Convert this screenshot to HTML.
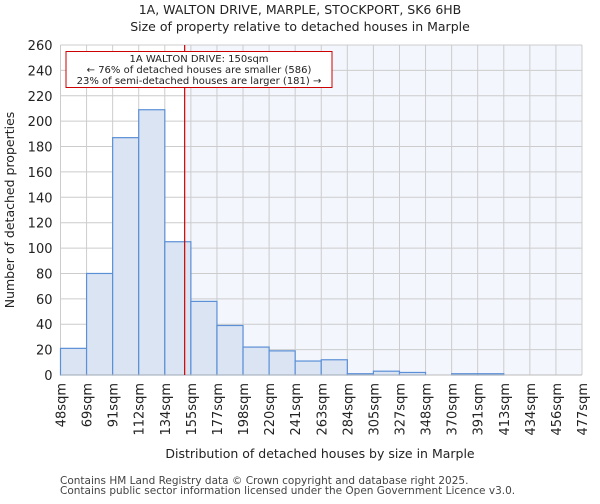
<!DOCTYPE html>
<html><head><meta charset="utf-8"><style>
body{margin:0;background:#fff;font-family:"DejaVu Sans","Liberation Sans",sans-serif;}
</style></head><body>
<svg id="chart" width="600" height="500" xmlns="http://www.w3.org/2000/svg" font-family="DejaVu Sans, Liberation Sans, sans-serif">
<text x="300" y="14" text-anchor="middle" font-size="12.5" fill="#222">1A, WALTON DRIVE, MARPLE, STOCKPORT, SK6 6HB</text>
<text x="300" y="31" text-anchor="middle" font-size="12.5" fill="#222">Size of property relative to detached houses in Marple</text>
<g id="plot"></g>
<text x="320" y="458" text-anchor="middle" font-size="12.5" fill="#222">Distribution of detached houses by size in Marple</text>
<text transform="translate(14,210) rotate(-90)" text-anchor="middle" font-size="12.5" fill="#222">Number of detached properties</text>
<text x="60" y="484" font-size="10.5" fill="#444">Contains HM Land Registry data © Crown copyright and database right 2025.</text>
<text x="60" y="494" font-size="10.5" fill="#444">Contains public sector information licensed under the Open Government Licence v3.0.</text>
</svg>
<script>
const labels=["48sqm","69sqm","91sqm","112sqm","134sqm","155sqm","177sqm","198sqm","220sqm","241sqm","263sqm","284sqm","305sqm","327sqm","348sqm","370sqm","391sqm","413sqm","434sqm","456sqm","477sqm"];
const edges=[48,69,91,112,134,155,177,198,220,241,263,284,305,327,348,370,391,413,434,456,477];
const counts=[21,80,187,209,105,58,39,22,19,11,12,1,3,2,0,1,1,0,0,0];
const yTicks=[0,20,40,60,80,100,120,140,160,180,200,220,240,260];
const propertySize=150;
const L=60.5,R=582,T=45,B=375,yMax=260,n=counts.length;
const NS="http://www.w3.org/2000/svg";
const g=document.getElementById('plot');
const xb=i=>L+(R-L)*i/n;
const y=v=>B-(B-T)*v/yMax;
function xv(v){for(let i=0;i<edges.length-1;i++){if(v<=edges[i+1])return xb(i)+(v-edges[i])/(edges[i+1]-edges[i])*(xb(i+1)-xb(i));}return R;}
function mk(t,a,p){const e=document.createElementNS(NS,t);for(const k in a)e.setAttribute(k,a[k]);(p||g).appendChild(e);return e;}
const px=xv(propertySize);
let e=mk('rect',{x:L,y:T,width:R-L,height:B-T,fill:'#fff'});


e=mk('rect',{x:px,y:T,width:R-px,height:B-T,fill:'#f3f6fd'});


for(let i=0;i<=n;i++){e=mk('line',{x1:xb(i),x2:xb(i),y1:T,y2:B,stroke:'#cccccc','stroke-width':1});

}
yTicks.forEach(v=>{e=mk('line',{x1:L,x2:R,y1:y(v),y2:y(v),stroke:'#cccccc','stroke-width':1});


const t=mk('text',{x:L-8,y:y(v)+5,'text-anchor':'end','font-size':13,fill:'#222'});t.textContent=v;

});
counts.forEach((c,i)=>{if(c<=0)return;e=mk('rect',{x:xb(i),y:y(c),width:xb(i+1)-xb(i),height:B-y(c),fill:'#dae4f3',stroke:'#5b8fd6','stroke-width':1.2});

});
labels.forEach((l,i)=>{const t=mk('text',{transform:`translate(${xb(i)+5},${383}) rotate(-90)`,'text-anchor':'end','font-size':13,fill:'#222'});t.textContent=l;

});
e=mk('line',{x1:L,x2:R,y1:B,y2:B,stroke:'#bbb','stroke-width':1});


e=mk('line',{x1:px,x2:px,y1:T,y2:B,stroke:'#cc0000','stroke-width':1.2});


e=mk('rect',{x:66,y:51.5,width:266,height:36,fill:'#fff',stroke:'#cc0000','stroke-width':1});


["1A WALTON DRIVE: "+propertySize+"sqm","← 76% of detached houses are smaller (586)","23% of semi-detached houses are larger (181) →"].forEach((s,i)=>{const t=mk('text',{x:199,y:62+i*11,'text-anchor':'middle','font-size':10,fill:'#222'});t.textContent=s;

});
</script>
</body></html>
